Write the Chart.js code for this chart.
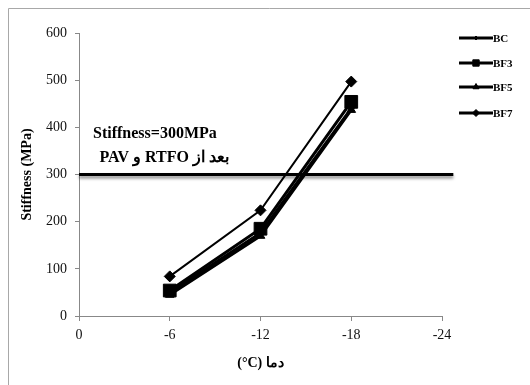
<!DOCTYPE html>
<html><head><meta charset="utf-8">
<script src="https://cdn.jsdelivr.net/npm/chart.js@4/dist/chart.umd.min.js"></script>
<style>html,body{margin:0;padding:0;background:#fff}#wrap{width:530px;height:385px;position:relative}</style>
</head><body><div id="wrap"><canvas id="c" width="530" height="385"></canvas></div>
<script>
const temps = [-6, -12, -18];
const seriesNames = ['BC', 'BF3', 'BF5', 'BF7'];
const bcValues = [50, 176, 440];
const bf3Values = [54, 185, 454];
const bf5Values = [45, 170, 437];
const bf7Values = [84, 224, 497];
const xTicks = [0, -6, -12, -18, -24];
const yTicks = [0, 100, 200, 300, 400, 500, 600];
const thresholdValue = 300;
const annotationLines = ['Stiffness=300MPa', 'بعد از RTFO و PAV'];
const xTitle = '(°C) دما';
const yTitle = 'Stiffness (MPa)';

const SERIF = "'Liberation Serif', 'Times New Roman', serif";
const pts = vals => temps.map((t, i) => ({x: t, y: vals[i]}));

const styles = {
  BC:  {pointStyle: 'rectRot', radius: 3, width: 3},
  BF3: {pointStyle: 'rect', radius: 9, width: 3},
  BF5: {pointStyle: 'triangle', radius: 5, width: 3},
  BF7: {pointStyle: 'rectRot', radius: 5.5, width: 2}
};
const valueMap = {BC: bcValues, BF3: bf3Values, BF5: bf5Values, BF7: bf7Values};

const datasets = seriesNames.map(n => ({
  label: n,
  data: pts(valueMap[n]),
  borderColor: '#000',
  backgroundColor: '#000',
  borderWidth: styles[n].width,
  pointStyle: styles[n].pointStyle,
  pointRadius: styles[n].radius,
  pointBorderWidth: 1,
  pointBackgroundColor: '#000',
  pointBorderColor: '#000',
  tension: 0,
  clip: false
}));

const framePlugin = {
  id: 'frame',
  beforeDraw(chart) {
    const ctx = chart.ctx;
    ctx.save();
    ctx.strokeStyle = '#a8a8a8';
    ctx.lineWidth = 1;
    ctx.beginPath();
    ctx.moveTo(8.5, 385); ctx.lineTo(8.5, 8.5); ctx.lineTo(530, 8.5);
    ctx.stroke();
    ctx.restore();
  }
};

const thresholdPlugin = {
  id: 'threshold',
  afterDatasetsDraw(chart) {
    const {ctx, scales: {x, y}} = chart;
    const py = y.getPixelForValue(thresholdValue);
    const x0 = x.getPixelForValue(0);
    const x1 = x.getPixelForValue(-24.75);
    ctx.save();
    ctx.strokeStyle = '#000';
    ctx.lineWidth = 3;
    ctx.shadowColor = 'rgba(0,0,0,0.45)';
    ctx.shadowOffsetY = 2.5;
    ctx.shadowBlur = 3;
    ctx.beginPath();
    ctx.moveTo(x0, py); ctx.lineTo(x1, py);
    ctx.stroke();
    ctx.restore();
    // annotation text
    ctx.save();
    ctx.fillStyle = '#000';
    ctx.font = 'bold 16px ' + SERIF;
    ctx.textBaseline = 'middle';
    ctx.textAlign = 'left';
    ctx.fillText(annotationLines[0], 93, py - 41);
    ctx.direction = 'rtl';
    ctx.textAlign = 'right';
    ctx.fillText(annotationLines[1], 229, py - 17);
    ctx.restore();
  }
};

const legendPlugin = {
  id: 'customLegend',
  afterDraw(chart) {
    const ctx = chart.ctx;
    const rows = [38, 63, 87, 113];
    chart.data.datasets.forEach((ds, i) => {
      const yy = rows[i];
      ctx.save();
      ctx.strokeStyle = '#000';
      ctx.lineWidth = 3;
      ctx.beginPath();
      ctx.moveTo(459, yy); ctx.lineTo(493, yy);
      ctx.stroke();
      ctx.fillStyle = '#000';
      ctx.lineWidth = 1;
      const legendR = {BC: 2, BF3: 4.5, BF5: 3.5, BF7: 3.5}[ds.label];
      Chart.helpers.drawPoint(ctx, {pointStyle: ds.pointStyle, radius: legendR, rotation: 0, borderWidth: 1}, 476, yy);
      ctx.font = 'bold 11px ' + SERIF;
      ctx.textBaseline = 'middle';
      ctx.textAlign = 'left';
      ctx.fillText(ds.label, 493, yy + 1);
      ctx.restore();
    });
  }
};

new Chart(document.getElementById('c'), {
  type: 'line',
  data: {datasets},
  plugins: [framePlugin, thresholdPlugin, legendPlugin],
  options: {
    responsive: false,
    animation: false,
    devicePixelRatio: 1,
    layout: {padding: {left: 0, top: 33, right: 88, bottom: 0}},
    plugins: {legend: {display: false}, tooltip: {enabled: false}},
    scales: {
      x: {
        type: 'linear',
        min: -24, max: 0,
        reverse: true,
        afterBuildTicks: s => { s.ticks = xTicks.map(v => ({value: v})); },
        afterFit: s => { s.height = 69; },
        grid: {display: true, drawOnChartArea: false, drawTicks: true, tickLength: 5, color: '#888'},
        border: {display: true, color: '#888', width: 1},
        ticks: {color: '#111', font: {family: SERIF, size: 14}, padding: 6, maxRotation: 0},
        title: {display: true, text: xTitle, color: '#000', font: {family: SERIF, size: 14, weight: 'bold'}, padding: {top: 0, bottom: 13}}
      },
      y: {
        type: 'linear',
        min: 0, max: 600,
        afterBuildTicks: s => { s.ticks = yTicks.map(v => ({value: v})); },
        afterFit: s => { s.width = 79; },
        grid: {display: true, drawOnChartArea: false, drawTicks: true, tickLength: 4, color: '#888'},
        border: {display: true, color: '#888', width: 1},
        ticks: {color: '#111', font: {family: SERIF, size: 14}, padding: 8},
        title: {display: true, text: yTitle, color: '#000', font: {family: SERIF, size: 14, weight: 'bold'}, padding: {top: 19, bottom: 0}}
      }
    }
  }
});
</script></body></html>
